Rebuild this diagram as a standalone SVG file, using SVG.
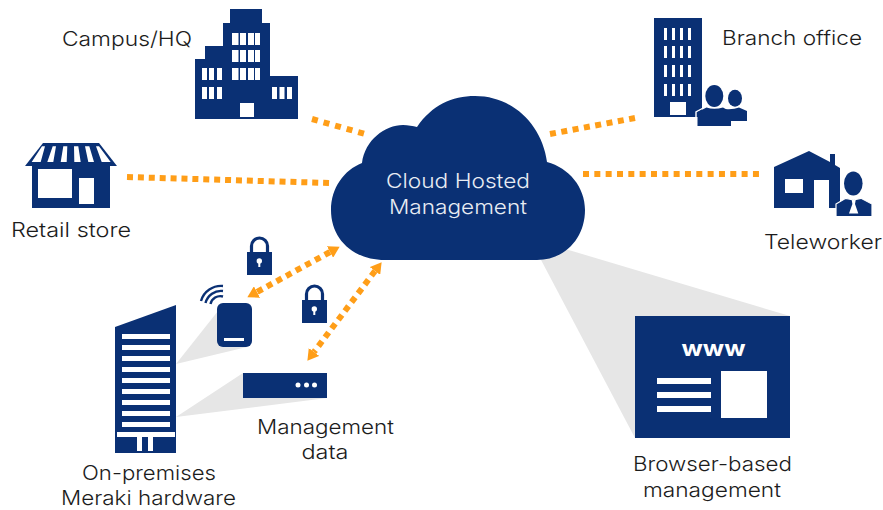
<svg xmlns="http://www.w3.org/2000/svg" width="883" height="510" viewBox="0 0 883 510">
<style>
.n{fill:#0a3074}
.w{fill:#fff}
.s{fill:#e6e6e6}
.l{font-family:"Inter","Open Sans","Liberation Sans",sans-serif;font-size:20px;fill:#1c1c1c;font-weight:300}
.c{fill:#e8ecf3}
.d{fill:none;stroke:#ff9e18;stroke-width:6}
.h{fill:#ff9e18}
.lo{fill:none;stroke:#0a3074;stroke-width:3.2}
.wf{fill:none;stroke:#0a3074;stroke-width:2.4}
.halo{stroke:#fff;stroke-width:1.2}
.hl{fill:none;stroke:#fff;stroke-width:1.4}
</style>
<defs>
<marker id="ah" markerUnits="userSpaceOnUse" markerWidth="11" markerHeight="13" refX="0" refY="6.5" orient="auto-start-reverse"><path class="h" d="M0,0L11,6.5L0,13z"/></marker>
<g id="bodyLock"><path class="lo" d="M4.500,15V9a8,8 0 0 1 16,0V15"/><rect class="n" y="15" width="25" height="23"/><circle class="w" cx="12.300" cy="24" r="2.700"/><rect class="w" x="11.300" y="24" width="2" height="6"/></g>
</defs>
<g id="shades">
<polygon class="s" points="540,258 562,248 790,316 635,438"/>
<polygon class="s" points="176,364 218,311 247,347"/>
<polygon class="s" points="176,417 243,373 243,398 327,398"/>
</g>
<g id="connectors">
<path class="d" stroke-dasharray="6 6" d="M312,119L365,134"/>
<path class="d" stroke-dasharray="6 4.900" d="M127,177L329,183"/>
<path class="d" stroke-dasharray="6 5.500" d="M550,134L635,118"/>
<path class="d" stroke-dasharray="6 5.330" d="M583,174L759,174"/>
<path class="d" stroke-dasharray="6 5" d="M330,252L257,292" marker-start="url(#ah)" marker-end="url(#ah)"/>
<path class="d" stroke-dasharray="6 5" d="M375,271L314,352" marker-start="url(#ah)" marker-end="url(#ah)"/>
</g>
<g id="cloud">
<path class="n" d="M385,260C352,260 331,238 331,210C331,188 344,170 362,163C365,140 385,125 403,125C408,125 413,126 417,127C432,105 452,96 475,96C513,96 542,125 547,162C569,168 585,187 585,210C585,238 565,260 537,260Z"/>
<text class="l c" x="458" y="187.500" text-anchor="middle" textLength="144" lengthAdjust="spacingAndGlyphs">Cloud Hosted</text>
<text class="l c" x="458" y="213.500" text-anchor="middle" textLength="138" lengthAdjust="spacingAndGlyphs">Management</text>
</g>
<g id="campus">
<polygon class="n" points="195,119 195,59 205,59 205,46 223,46 223,23 230,23 230,9 262,9 262,23 270,23 270,76 298,76 298,119"/>
<path class="w" d="M232,33h6.500v12h-6.500zM240,33h6v12h-6zM248,33h6v12h-6zM255,33h5v12h-5zM232,50h6.500v12h-6.500zM240,50h6v12h-6zM248,50h6v12h-6zM255,50h5v12h-5zM232,68h6.500v12h-6.500zM240,68h6v12h-6zM248,68h6v12h-6zM255,68h5v12h-5zM202,68h5v12h-5zM209,68h5v12h-5zM217,68h5v12h-5zM202,87h5v12h-5zM209,87h5v12h-5zM217,87h5v12h-5zM272,87h5v12h-5zM279.500,87h5v12h-5zM287,87h5v12h-5zM240,103h14v14h-14z"/>
<text class="l" x="62" y="46" textLength="130" lengthAdjust="spacingAndGlyphs">Campus/HQ</text>
</g>
<g id="retail">
<polygon class="n" points="43,143 99,143 117,166 25,166"/>
<path class="w" d="M42,146.300H45L40.700,162H31.700zM52.700,146.300H56L53.300,162H47.300zM63.300,146.300H67.300L66.700,162H60.700zM74,146.300H78.300L80.700,162H74.300zM85,146.300H89.300L94,162H88.300zM96,146.300H99L110.700,162H101.700z"/>
<rect class="n" x="32" y="166" width="78" height="42"/>
<rect class="w" x="38" y="169" width="34" height="29"/>
<rect class="w" x="79" y="178" width="15" height="26"/>
<text class="l" x="11" y="237" textLength="120" lengthAdjust="spacingAndGlyphs">Retail store</text>
</g>
<g id="branch">
<rect class="n" x="654" y="18" width="48" height="99"/>
<path class="w" d="M664,28h3v12h-3zM672,28h3v12h-3zM680,28h3v12h-3zM688,28h3v12h-3zM664,46h3v12h-3zM672,46h3v12h-3zM680,46h3v12h-3zM688,46h3v12h-3zM664,65h3v12h-3zM672,65h3v12h-3zM680,65h3v12h-3zM688,65h3v12h-3zM664,84h3v12h-3zM672,84h3v12h-3zM680,84h3v12h-3zM688,84h3v12h-3zM670,102h16v13h-16z"/>
<path class="hl" d="M696,126V112L706,106.500H703"/>
<path class="n" d="M724,109Q733,110 739,107.500L747,111V121H724Z"/>
<ellipse class="n" cx="735" cy="98.300" rx="7" ry="8.500"/>
<path class="n" d="M697.500,112L706.500,107.500Q714,110 723,107.500L731,112V126H697.500Z"/>
<ellipse class="n" cx="714.300" cy="96" rx="9" ry="11"/>
<text class="l" x="722" y="45" textLength="140" lengthAdjust="spacingAndGlyphs">Branch office</text>
</g>
<g id="teleworker">
<polygon class="n" points="774,167 809,151 830,162 830,154 835,154 835,165 840,168 840,208 829,208 829,180 814,180 814,208 774,208"/>
<rect class="w" x="785" y="179" width="18" height="14"/>
<path class="n halo" d="M836,204L845.700,198.300L853.500,200L861,198.300L872,204V216.700H836Z"/>
<ellipse class="n" cx="853.300" cy="183.500" rx="9.300" ry="12"/>
<polygon class="w" points="851.700,200 855.700,200 855,204 858.300,213.500 849,213.500 852.400,204"/>
<text class="l" x="764" y="249" textLength="118" lengthAdjust="spacingAndGlyphs">Teleworker</text>
</g>
<g id="browser">
<rect class="n" x="635" y="316" width="155" height="122"/>
<text x="713.500" y="356" text-anchor="middle" font-family="Inter,'Liberation Sans',sans-serif" font-weight="700" font-size="21" fill="#fff" textLength="64" lengthAdjust="spacingAndGlyphs">www</text>
<path class="w" d="M657,378h54v6h-54zM657,392h54v6h-54zM657,406h54v6h-54zM721,371h46v47h-46z"/>
<text class="l" x="712.500" y="471" text-anchor="middle" textLength="159" lengthAdjust="spacingAndGlyphs">Browser-based</text>
<text class="l" x="712" y="497" text-anchor="middle" textLength="138" lengthAdjust="spacingAndGlyphs">management</text>
</g>
<g id="lock1"><use href="#bodyLock" x="247" y="237"/></g>
<g id="lock2"><use href="#bodyLock" x="302" y="285"/></g>
<g id="ap">
<rect class="n" x="217" y="303" width="35" height="44" rx="6"/>
<rect class="w" x="224" y="338" width="20" height="3"/>
<path class="wf" d="M201,301A21,21 0 0 1 223,286M205.500,303A16,16 0 0 1 223,291M210.500,304A10,10 0 0 1 223,296.500"/>
</g>
<g id="server">
<rect class="n" x="243" y="373" width="84" height="25"/>
<circle class="w" cx="298" cy="385" r="2.500"/><circle class="w" cx="306.500" cy="385" r="2.500"/><circle class="w" cx="314.500" cy="385" r="2.500"/>
<text class="l" x="325.500" y="434" text-anchor="middle" textLength="137" lengthAdjust="spacingAndGlyphs">Management</text>
<text class="l" x="325" y="459" text-anchor="middle" textLength="47" lengthAdjust="spacingAndGlyphs">data</text>
</g>
<g id="onprem">
<polygon class="n" points="115,327 176,305 176,453 115,453"/>
<path class="w" d="M122,334h48v5h-48zM122,345h48v5h-48zM122,356h48v5h-48zM122,367h48v5h-48zM122,378h48v5h-48zM122,389h48v5h-48zM122,400h48v5h-48zM122,411h48v5h-48zM122,422h48v5h-48zM117,432h58v5h-58zM137,437h5v14h-5zM148,437h5v14h-5z"/>
<text class="l" x="149" y="480" text-anchor="middle" textLength="134" lengthAdjust="spacingAndGlyphs">On-premises</text>
<text class="l" x="148.500" y="505" text-anchor="middle" textLength="175" lengthAdjust="spacingAndGlyphs">Meraki hardware</text>
</g>
</svg>
